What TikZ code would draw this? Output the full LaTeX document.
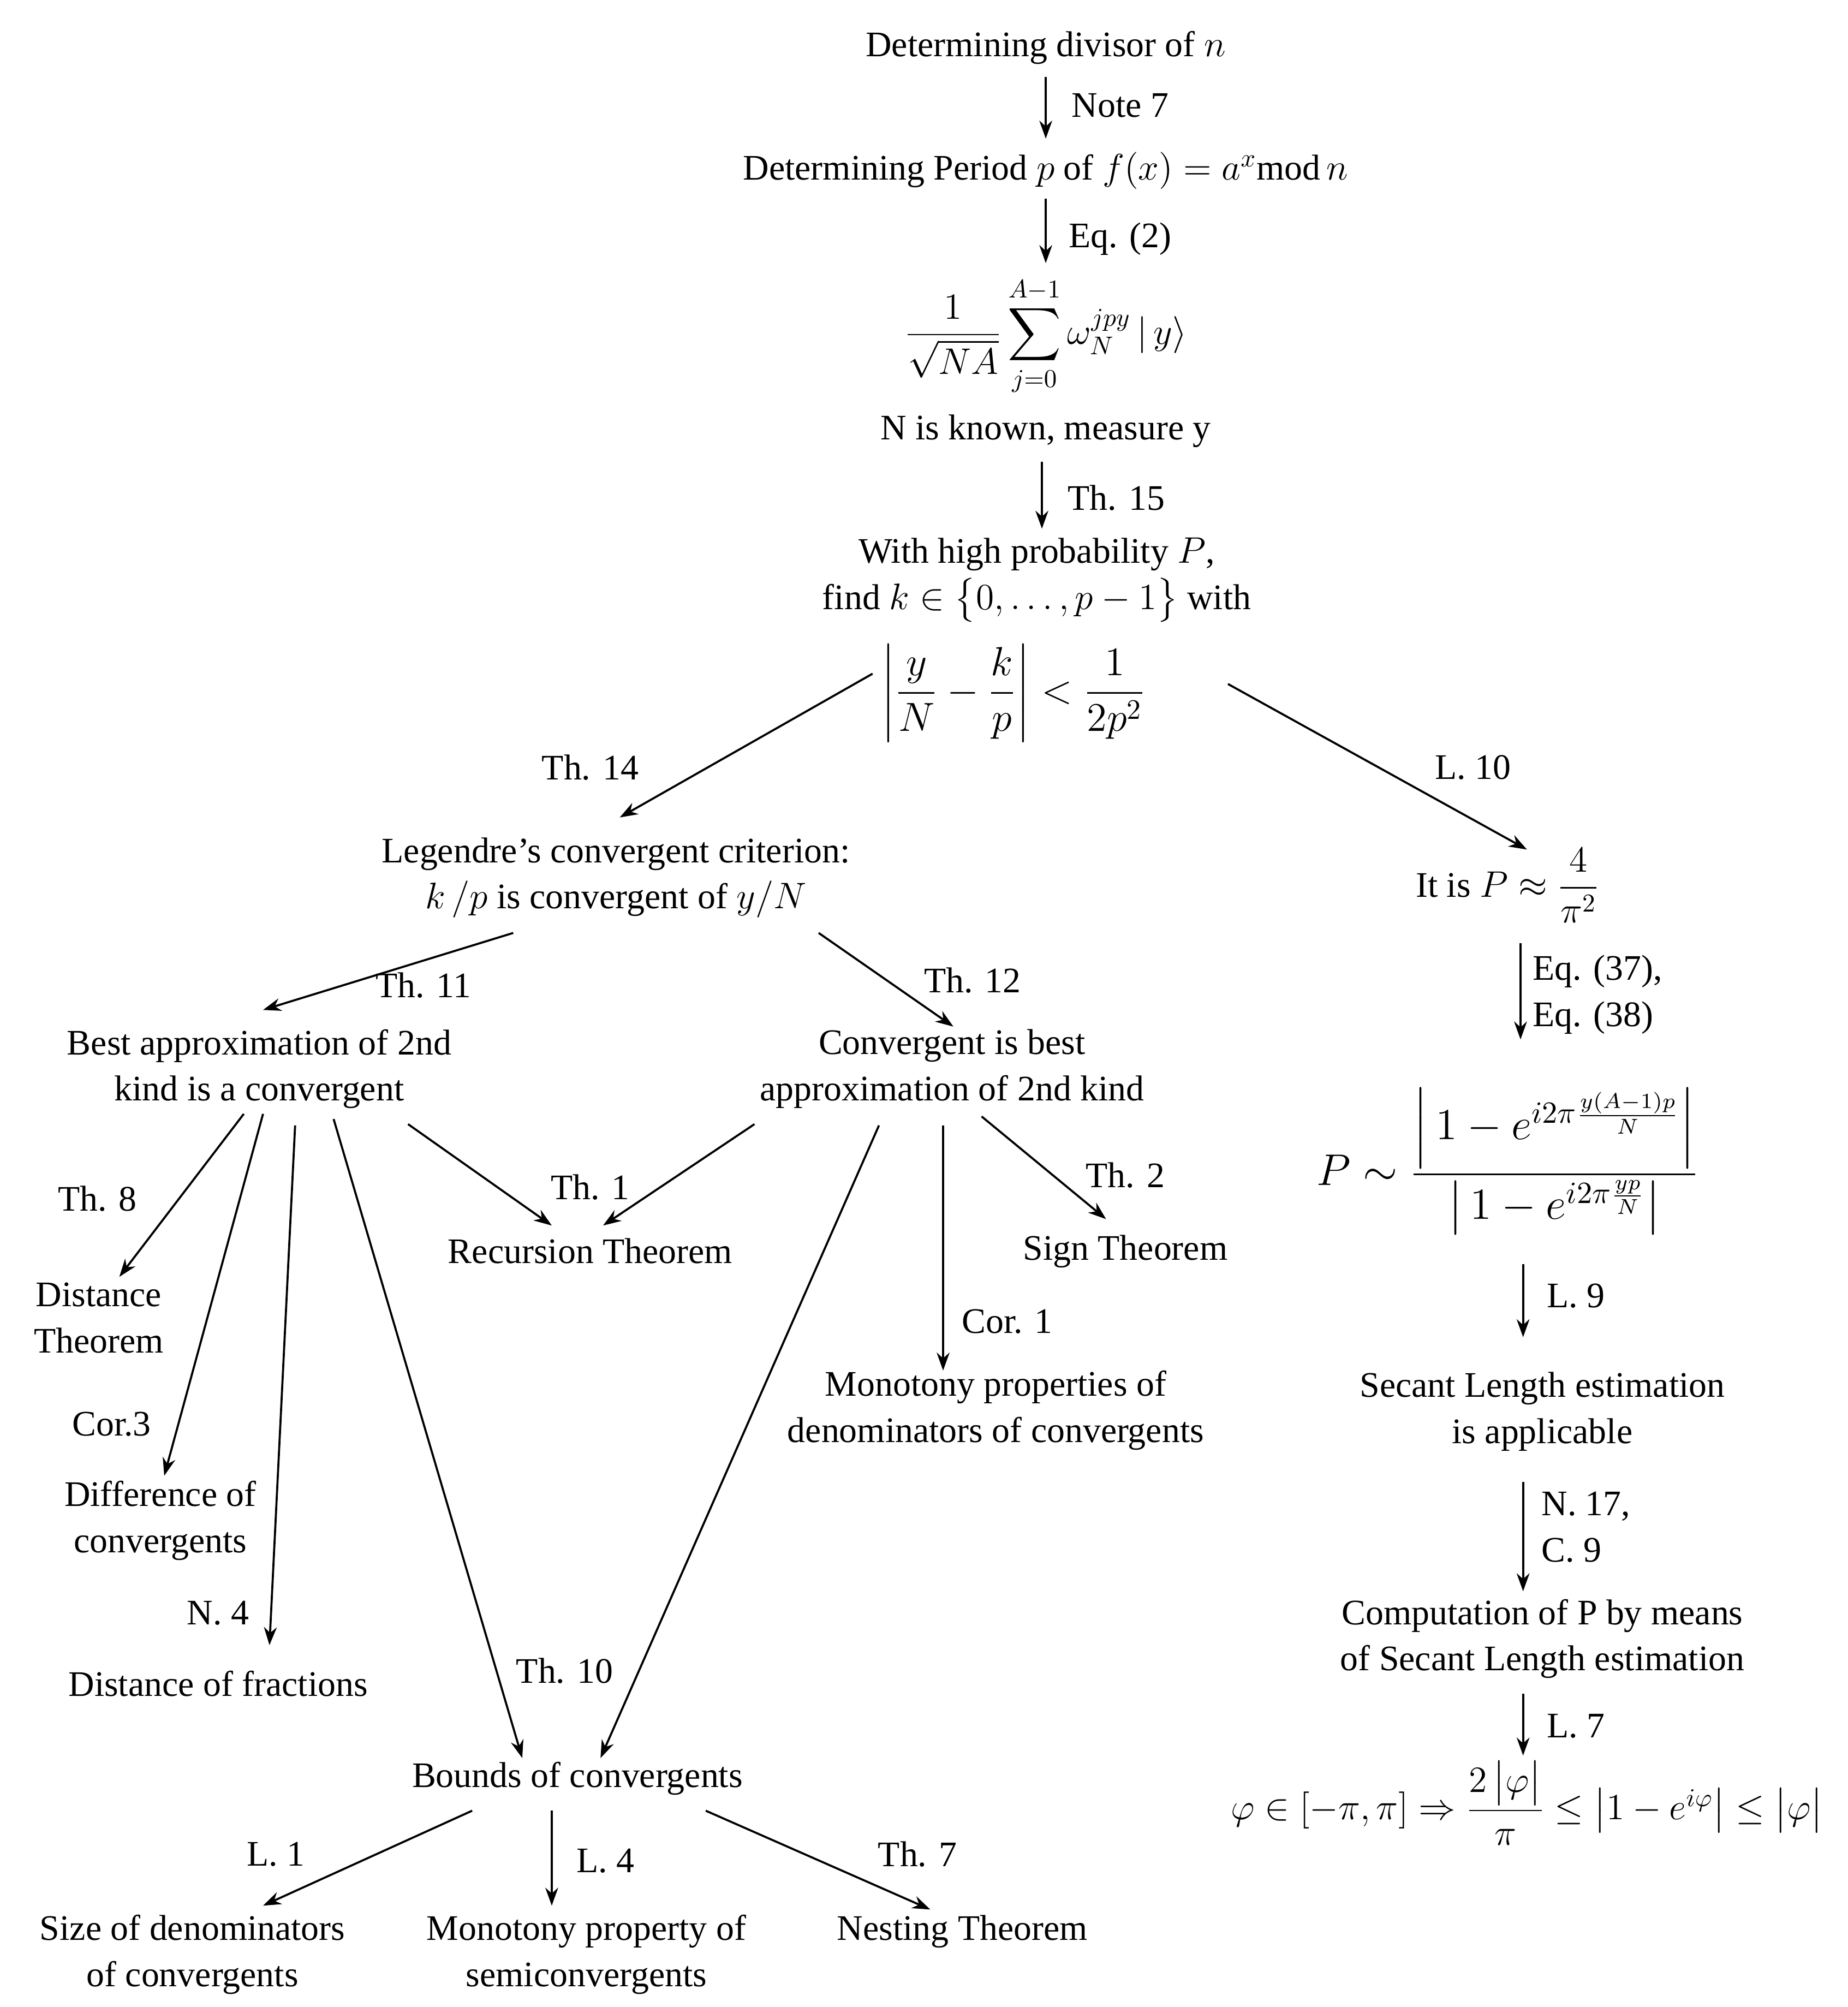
\documentclass[tikz,border=0pt]{standalone}
\usepackage{fontspec}
\setmainfont{Liberation Serif}
\usepackage{amsmath}
\usetikzlibrary{arrows.meta}
\begin{document}
\begin{tikzpicture}[x=0.5pt,y=-0.5pt,
  every node/.style={font=\fontsize{14}{18}\selectfont,align=center,inner sep=0pt},
  lab/.style={font=\fontsize{14}{18}\selectfont},
  ar/.style={-{Stealth[length=7pt,width=5pt]},line width=0.8pt}]
\useasboundingbox (0,0) rectangle (1440,1564);
% texts
\node (t1) at (815,37) {Determining divisor of $n$};
\node (t2) at (815,133) {Determining Period $p$ of $f(x)=a^x\mathrm{mod}\,n$};
\node (t3) at (815,262) {$\displaystyle\frac{1}{\sqrt{NA}}\sum_{j=0}^{A-1}\omega_N^{jpy}\,|\,y\rangle$};
\node (t3b) at (815,336) {N is known, measure y};
\node (t4) at (808,452) {With high probability $P$,\\find $k\in\bigl\{0,\ldots,p-1\bigr\}$ with};
\node (t4b) at (790,540) {\scalebox{1.1}{$\displaystyle\left|\frac{y}{N}-\frac{k}{p}\right|<\frac{1}{2p^2}$}};
\node (t5) at (480,684) {Legendre’s convergent criterion:\\$k\,/p$ is convergent of $y/N$};
\node (t6) at (1175,690) {It is $P\approx\dfrac{4}{\pi^2}$};
\node (t7) at (1175,905) {\scalebox{1.2}{$P\sim\dfrac{\left|\,1-e^{i2\pi\frac{y(A-1)p}{N}}\right|}{\left|\,1-e^{i2\pi\frac{yp}{N}}\right|}$}};
\node (t8) at (1202,1100) {Secant Length estimation\\is applicable};
\node (t9) at (1202,1277) {Computation of P by means\\of Secant Length estimation};
\node (t10) at (1190,1405) {$\varphi\in[-\pi,\pi]\Rightarrow\dfrac{2\,\bigl|\varphi\bigr|}{\pi}\le\bigl|1-e^{i\varphi}\bigr|\le\bigl|\varphi\bigr|$};
\node (t11) at (202,833) {Best approximation of 2nd\\kind is a convergent};
\node (t12) at (742,833) {Convergent is best\\approximation of 2nd kind};
\node (t13) at (77,1027) {Distance\\Theorem};
\node (t14) at (460,975) {Recursion Theorem};
\node (t15) at (877,975) {Sign Theorem};
\node (t16) at (776,1099) {Monotony properties of\\denominators of convergents};
\node (t17) at (125,1185) {Difference of\\convergents};
\node (t18) at (170,1312) {Distance of fractions};
\node (t19) at (450,1386) {Bounds of convergents};
\node (t20) at (150,1523) {Size of denominators\\of convergents};
\node (t21) at (457,1523) {Monotony property of\\semiconvergents};
\node (t22) at (750,1505) {Nesting Theorem};
% coordinates
\coordinate (a1) at (815,60); \coordinate (b1) at (815,108);
\coordinate (a2) at (815,155); \coordinate (b2) at (815,205);
\coordinate (a3) at (812,360); \coordinate (b3) at (812,412);
\coordinate (a4) at (680,525); \coordinate (b4) at (483,637);
\coordinate (a5) at (957,533); \coordinate (b5) at (1190,662);
\coordinate (a6) at (1185,735); \coordinate (b6) at (1185,810);
\coordinate (a7) at (1187,985); \coordinate (b7) at (1187,1042);
\coordinate (a8) at (1187,1155); \coordinate (b8) at (1187,1240);
\coordinate (a9) at (1187,1320); \coordinate (b9) at (1187,1368);
\coordinate (c1) at (400,727); \coordinate (d1) at (205,787);
\coordinate (c2) at (638,727); \coordinate (d2) at (743,800);
\coordinate (e1) at (190,868); \coordinate (f1) at (93,995);
\coordinate (e2) at (205,868); \coordinate (f2) at (128,1150);
\coordinate (e3) at (230,877); \coordinate (f3) at (210,1282);
\coordinate (e4) at (260,872); \coordinate (f4) at (407,1370);
\coordinate (e5) at (318,876); \coordinate (f5) at (430,955);
\coordinate (g1) at (588,876); \coordinate (h1) at (470,955);
\coordinate (g2) at (685,877); \coordinate (h2) at (468,1370);
\coordinate (g3) at (735,877); \coordinate (h3) at (735,1068);
\coordinate (g4) at (765,870); \coordinate (h4) at (862,950);
\coordinate (k1) at (368,1411); \coordinate (l1) at (205,1485);
\coordinate (k2) at (430,1411); \coordinate (l2) at (430,1485);
\coordinate (k3) at (550,1411); \coordinate (l3) at (725,1488);
% arrows
\foreach \p/\q in {a1/b1,a2/b2,a3/b3,a4/b4,a5/b5,a6/b6,a7/b7,a8/b8,a9/b9,c1/d1,c2/d2,e1/f1,e2/f2,e3/f3,e4/f4,e5/f5,g1/h1,g2/h2,g3/h3,g4/h4,k1/l1,k2/l2,k3/l3}
  \draw[ar] (\p) -- (\q);
% labels
\node[lab] (n1) at (873,82) {Note 7};
\node[lab] (n2) at (873,186) {Eq. (2)};
\node[lab] (n3) at (870,388) {Th. 15};
\node[lab] (n4) at (460,598) {Th. 14};
\node[lab] (n5) at (1148,598) {L. 10};
\node[lab,align=left] (n6) at (1245,775) {Eq. (37),\\Eq. (38)};
\node[lab] (n7) at (1228,1010) {L. 9};
\node[lab,align=left] (n8) at (1236,1190) {N. 17,\\C. 9};
\node[lab] (n9) at (1228,1345) {L. 7};
\node[lab] (n10) at (330,768) {Th. 11};
\node[lab] (n11) at (758,764) {Th. 12};
\node[lab] (n12) at (76,934) {Th. 8};
\node[lab] (n13) at (87,1110) {Cor.3};
\node[lab] (n14) at (170,1257) {N. 4};
\node[lab] (n15) at (440,1302) {Th. 10};
\node[lab] (n16) at (460,925) {Th. 1};
\node[lab] (n17) at (785,1030) {Cor. 1};
\node[lab] (n18) at (877,916) {Th. 2};
\node[lab] (n19) at (215,1445) {L. 1};
\node[lab] (n20) at (472,1450) {L. 4};
\node[lab] (n21) at (715,1445) {Th. 7};
\end{tikzpicture}
\end{document}
